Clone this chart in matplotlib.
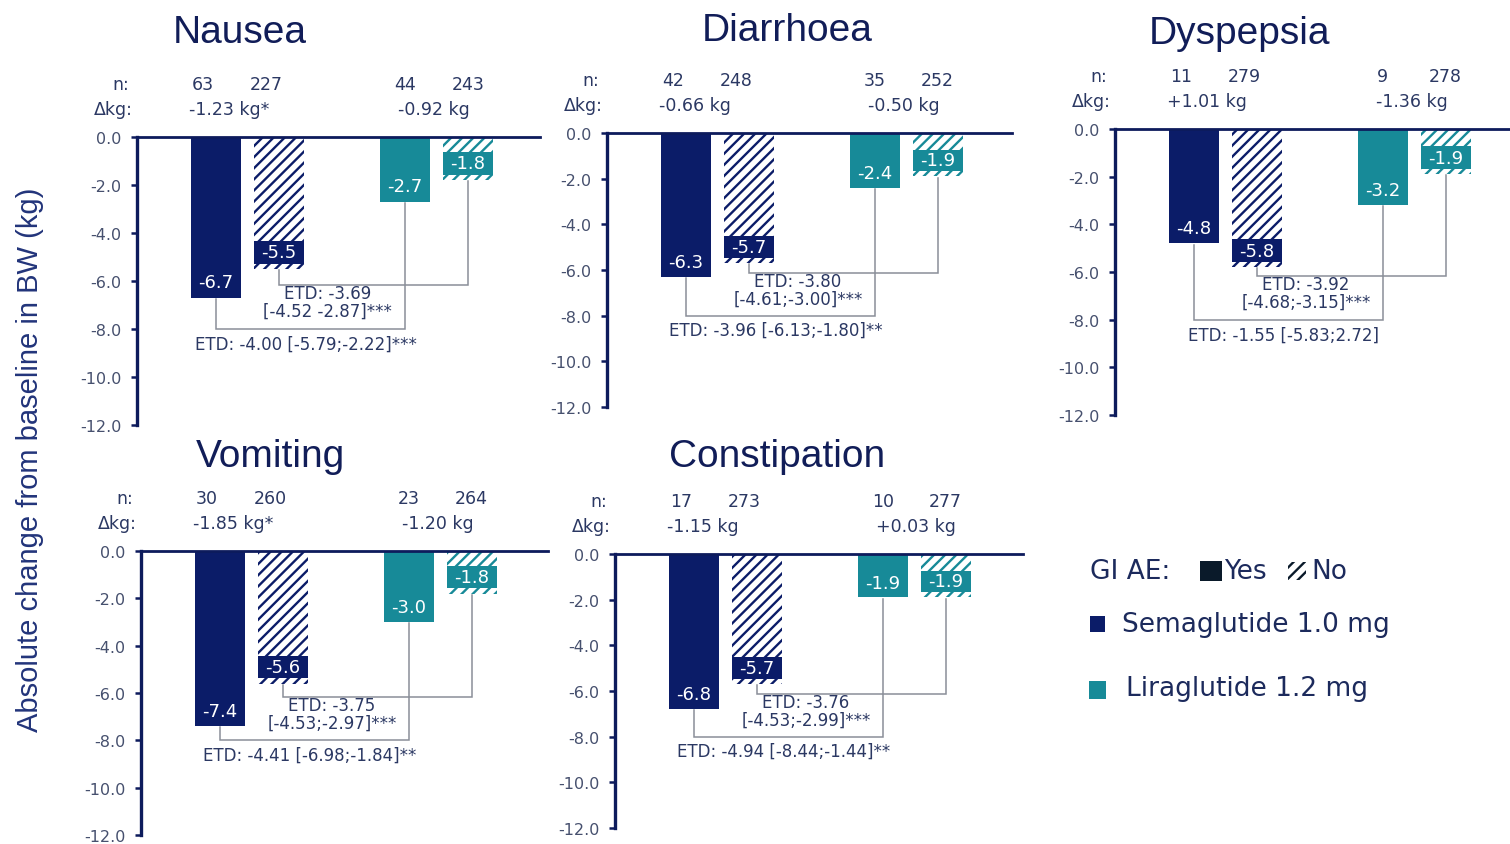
import matplotlib
matplotlib.use("Agg")
import matplotlib.pyplot as plt
from matplotlib import font_manager
from matplotlib.patches import Rectangle

# ---------------------------------------------------------------- data
panels = ["Nausea", "Diarrhoea", "Dyspepsia", "Vomiting", "Constipation"]

sema_yes = [-6.7, -6.3, -4.8, -7.4, -6.8]
sema_no = [-5.5, -5.7, -5.8, -5.6, -5.7]
lira_yes = [-2.7, -2.4, -3.2, -3.0, -1.9]
lira_no = [-1.8, -1.9, -1.9, -1.8, -1.9]

n_sema_yes = [63, 42, 11, 30, 17]
n_sema_no = [227, 248, 279, 260, 273]
n_lira_yes = [44, 35, 9, 23, 10]
n_lira_no = [243, 252, 278, 264, 277]

dkg_sema = ["-1.23 kg*", "-0.66 kg", "+1.01 kg", "-1.85 kg*", "-1.15 kg"]
dkg_lira = ["-0.92 kg", "-0.50 kg", "-1.36 kg", "-1.20 kg", "+0.03 kg"]

etd_no = [
    "ETD: -3.69\n[-4.52 -2.87]***",
    "ETD: -3.80\n[-4.61;-3.00]***",
    "ETD: -3.92\n[-4.68;-3.15]***",
    "ETD: -3.75\n[-4.53;-2.97]***",
    "ETD: -3.76\n[-4.53;-2.99]***",
]
etd_yes = [
    "ETD: -4.00 [-5.79;-2.22]***",
    "ETD: -3.96 [-6.13;-1.80]**",
    "ETD: -1.55 [-5.83;2.72]",
    "ETD: -4.41 [-6.98;-1.84]**",
    "ETD: -4.94 [-8.44;-1.44]**",
]

yticks = [0.0, -2.0, -4.0, -6.0, -8.0, -10.0, -12.0]
ylabel = "Absolute change from baseline in BW (kg)"

# ---------------------------------------------------------------- style
NAVY = "#0b1c68"
TEAL = "#178a98"
SPINE = "#0d1b5c"
TICKTXT = "#46506e"
TXT = "#2b3863"
TITLE = "#111d58"
LINK = "#8a8e98"

W, H = 1510, 845
plt.rcParams["axes.unicode_minus"] = False
plt.rcParams["hatch.linewidth"] = 1.7
plt.rcParams["font.family"] = "DejaVu Sans"


def pick(*names):
    for name in names:
        try:
            font_manager.findfont(font_manager.FontProperties(family=name),
                                  fallback_to_default=False)
            return name
        except Exception:
            pass
    return "DejaVu Sans"


narrow = pick("Liberation Sans Narrow")
if narrow == "Liberation Sans Narrow":
    title_font, title_size = narrow, 33
else:
    title_font, title_size = pick("Liberation Sans"), 28
label_font = pick("Liberation Sans")

fig = plt.figure(figsize=(W / 100, H / 100), dpi=100)
fig.patch.set_facecolor("white")

# panel frames in pixels: left, top (zero line), right, bottom (-12)
frames = [(137, 138, 540, 426), (607, 134, 1012, 408), (1115, 130, 1510, 416),
          (141, 552, 548, 836), (615, 555, 1023, 829)]
title_xy = [(240, 33), (787, 31), (1240, 34), (270, 457), (777, 457)]

UNIT = 63.0          # pixels per bar slot
BW = 0.79            # bar width in slots
pos = [0, 1, 3, 4]   # sema yes, sema no, lira yes, lira no


def draw_panel(i):
    left, top, right, bottom = frames[i]
    ax = fig.add_axes([left / W, 1 - bottom / H, (right - left) / W, (bottom - top) / H])
    ax.set_xlim(-1.25, -1.25 + (right - left) / UNIT)
    ax.set_ylim(-12.0, 0.0)
    for s in ("right", "bottom"):
        ax.spines[s].set_visible(False)
    ax.spines["left"].set_color(SPINE)
    ax.spines["left"].set_linewidth(2.4)
    ax.spines["top"].set_color(SPINE)
    ax.spines["top"].set_linewidth(2.0)
    ax.set_xticks([])
    ax.set_yticks(yticks)
    ax.set_yticklabels([f"{t:.1f}" for t in yticks])
    ax.tick_params(axis="y", colors=SPINE, labelcolor=TICKTXT, labelsize=11.5,
                   length=4, width=1.8, pad=7)
    ax.patch.set_alpha(0)

    vals = [sema_yes[i], sema_no[i], lira_yes[i], lira_no[i]]
    cols = [NAVY, NAVY, TEAL, TEAL]
    hatched = [False, True, False, True]

    for x, v, c, h in zip(pos, vals, cols, hatched):
        if h:
            ax.bar(x, v, width=BW, color="white", edgecolor=c, hatch="///",
                   linewidth=0, zorder=2)
            ax.add_patch(Rectangle((x - BW / 2, v + 0.22), BW, 0.95,
                                   facecolor=c, edgecolor="none", zorder=3))
            ax.text(x, v + 0.7, f"{v:.1f}", color="white", ha="center",
                    va="center", fontsize=13, zorder=4)
        else:
            ax.bar(x, v, width=BW, color=c, linewidth=0, zorder=2)
            ax.text(x, v + 0.65, f"{v:.1f}", color="white", ha="center",
                    va="center", fontsize=13, zorder=4)

    # treatment-difference connectors
    lk = dict(color=LINK, linewidth=1.1, zorder=1, solid_joinstyle="miter")
    up = -6.15
    ax.plot([pos[1], pos[1], pos[3], pos[3]],
            [vals[1] - 0.05, up, up, vals[3] - 0.05], **lk)
    low = -8.0
    ax.plot([pos[0], pos[0], pos[2], pos[2]],
            [vals[0] - 0.05, low, low, vals[2] - 0.05], **lk)
    ax.text(1.78, -6.88, etd_no[i], ha="center", va="center", fontsize=12,
            color=TXT, linespacing=1.0, zorder=5)
    ax.text(1.43, -8.62, etd_yes[i], ha="center", va="center", fontsize=12,
            color=TXT, zorder=5)

    # group sizes and between-group weight difference
    hdr = dict(xycoords=("data", "axes fraction"), textcoords="offset points",
               fontsize=12.5, color=TXT, va="center", annotation_clip=False)
    for x, n in zip([-0.2, 0.8, 3.0, 4.0],
                    [n_sema_yes[i], n_sema_no[i], n_lira_yes[i], n_lira_no[i]]):
        ax.annotate(str(n), xy=(x, 1), xytext=(0, 38), ha="center", **hdr)
    ax.annotate(dkg_sema[i], xy=(-0.43, 1), xytext=(0, 20), ha="left", **hdr)
    ax.annotate(dkg_lira[i], xy=(2.9, 1), xytext=(0, 20), ha="left", **hdr)
    ax.annotate("n:", xy=(-1.25, 1), xytext=(-6, 38), ha="right", **hdr)
    ax.annotate("\u0394kg:", xy=(-1.25, 1), xytext=(-3, 20), ha="right", **hdr)

    tx, ty = title_xy[i]
    fig.text(tx / W, 1 - ty / H, panels[i], ha="center", va="center",
             fontsize=title_size, family=title_font, color=TITLE)


for i in range(len(panels)):
    draw_panel(i)

fig.text(30 / W, 1 - 460 / H, ylabel, rotation=90, ha="center", va="center",
         fontsize=21, family=label_font, color="#22347a")

# ---------------------------------------------------------------- legend
def fig_rect(x0, y0, x1, y1, **kw):
    fig.add_artist(Rectangle((x0 / W, 1 - y1 / H), (x1 - x0) / W, (y1 - y0) / H,
                             transform=fig.transFigure, **kw))


leg = dict(fontsize=19, color="#1c2a5c", va="center", ha="left")
fig.text(1090 / W, 1 - 572 / H, "GI AE:", **leg)
fig_rect(1200, 562, 1222, 582, facecolor="#0a1a2a", edgecolor="none")
fig.text(1224 / W, 1 - 572 / H, "Yes", **leg)
fig_rect(1288, 563, 1306, 581, facecolor="white", edgecolor="#0a1a2a",
         hatch="///", linewidth=0)
fig.text(1311 / W, 1 - 572 / H, "No", **leg)
fig_rect(1090, 617, 1105, 633, facecolor=NAVY, edgecolor="none")
fig.text(1122 / W, 1 - 625 / H, "Semaglutide 1.0 mg", **leg)
fig_rect(1089, 682, 1106, 700, facecolor=TEAL, edgecolor="none")
fig.text(1126 / W, 1 - 689 / H, "Liraglutide 1.2 mg", **leg)

fig.savefig("out.png", dpi=100, facecolor="white")
